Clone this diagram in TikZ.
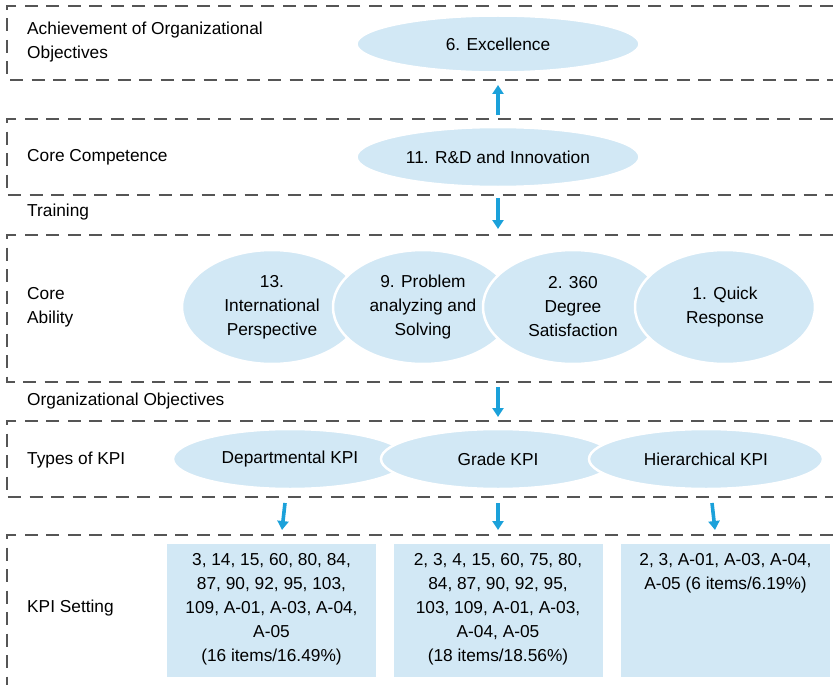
\documentclass[tikz,border=0pt]{standalone}
\usepackage{fontspec}
\setmainfont{Liberation Sans}
\usetikzlibrary{shapes.geometric,arrows.meta}
\definecolor{lblue}{HTML}{D2E8F5}
\definecolor{arrblue}{HTML}{1BA1DA}
\definecolor{dgray}{HTML}{555555}
\begin{document}
\begin{tikzpicture}[x=1pt,y=-1pt,
  font=\fontsize{17.3}{24}\selectfont,
  dline/.style={draw=dgray, line width=1.3pt, dash pattern=on 13pt off 8.5pt},
  oval/.style={ellipse, fill=lblue, draw=white, line width=2.5pt, inner sep=0pt, align=center, text=black},
  arr/.style={draw=arrblue, line width=3.6pt, -{Triangle[width=11pt,length=9pt]}},
  kbox/.style={rectangle, fill=lblue, minimum width=209pt, minimum height=133pt, inner sep=0pt},
  ktext/.style={anchor=north, align=center, inner sep=0pt},
  lbl/.style={anchor=west, align=left, inner sep=0pt}]
\useasboundingbox (0,0) rectangle (833,685);

% dashed bands
\draw[dline] (833,6) -- (7,6) -- (7,80) -- (833,80);
\draw[dline] (833,119) -- (7,119) -- (7,195) -- (833,195);
\draw[dline] (833,235) -- (7,235) -- (7,382) -- (833,382);
\draw[dline] (833,421) -- (7,421) -- (7,497) -- (833,497);
\draw[dline] (833,535) -- (7,535) -- (7,685);

% labels
\node[lbl] (l1) at (27,42) {Achievement of Organizational\\Objectives};
\node[lbl] (l2) at (27,157) {Core Competence};
\node[lbl] (l3) at (27,212) {Training};
\node[lbl] (l4) at (27,307) {Core\\Ability};
\node[lbl] (l5) at (27,401) {Organizational Objectives};
\node[lbl] (l6) at (27,460) {Types of KPI};
\node[lbl] (l7) at (27,608) {KPI Setting};

% top ellipses
\node[oval, minimum width=283pt, minimum height=57pt] (exc) at (498,44) {6. Excellence};
\node[oval, minimum width=283pt, minimum height=60pt] (rd) at (498,157) {11. R\&D and Innovation};

% core ability
\node[oval, minimum width=180pt, minimum height=114pt] (c1) at (272,307) {13.\\International\\Perspective};
\node[oval, minimum width=180pt, minimum height=114pt] (c2) at (423,307) {9. Problem\\analyzing and\\Solving};
\node[oval, minimum width=180pt, minimum height=114pt] (c3) at (573,307) {2. 360\\Degree\\Satisfaction};
\node[oval, minimum width=180pt, minimum height=114pt] (c4) at (725,307) {1. Quick\\Response};

% KPI types
\node[oval, minimum width=234pt, minimum height=60pt] (k1) at (290,459) {Departmental KPI};
\node[oval, minimum width=234pt, minimum height=60pt] (k2) at (498,459) {Grade KPI};
\node[oval, minimum width=234pt, minimum height=60pt] (k3) at (706,459) {Hierarchical KPI};

% KPI boxes
\node[kbox] (b1) at (271.5,610.5) {};
\node[kbox] (b2) at (498,610.5) {};
\node[kbox] (b3) at (725.5,610.5) {};
\node[ktext] (t1) at ([yshift=-9pt]b1.north) {3, 14, 15, 60, 80, 84,\\87, 90, 92, 95, 103,\\109, A-01, A-03, A-04,\\A-05\\(16 items/16.49\%)};
\node[ktext] (t2) at ([yshift=-9pt]b2.north) {2, 3, 4, 15, 60, 75, 80,\\84, 87, 90, 92, 95,\\103, 109, A-01, A-03,\\A-04, A-05\\(18 items/18.56\%)};
\node[ktext] (t3) at ([yshift=-9pt]b3.north) {2, 3, A-01, A-03, A-04,\\A-05 (6 items/6.19\%)};

% arrows
\coordinate (a1s) at (498,115); \coordinate (a1e) at (498,85);
\coordinate (a2s) at (498,198); \coordinate (a2e) at (498,229);
\coordinate (a3s) at (498,387); \coordinate (a3e) at (498,417);
\coordinate (a4s) at (285,503); \coordinate (a4e) at (282,530);
\coordinate (a5s) at (498,503); \coordinate (a5e) at (498,530);
\coordinate (a6s) at (712,503); \coordinate (a6e) at (715,530);
\draw[arr] (a1s) -- (a1e);
\draw[arr] (a2s) -- (a2e);
\draw[arr] (a3s) -- (a3e);
\draw[arr] (a4s) -- (a4e);
\draw[arr] (a5s) -- (a5e);
\draw[arr] (a6s) -- (a6e);
\end{tikzpicture}
\end{document}
